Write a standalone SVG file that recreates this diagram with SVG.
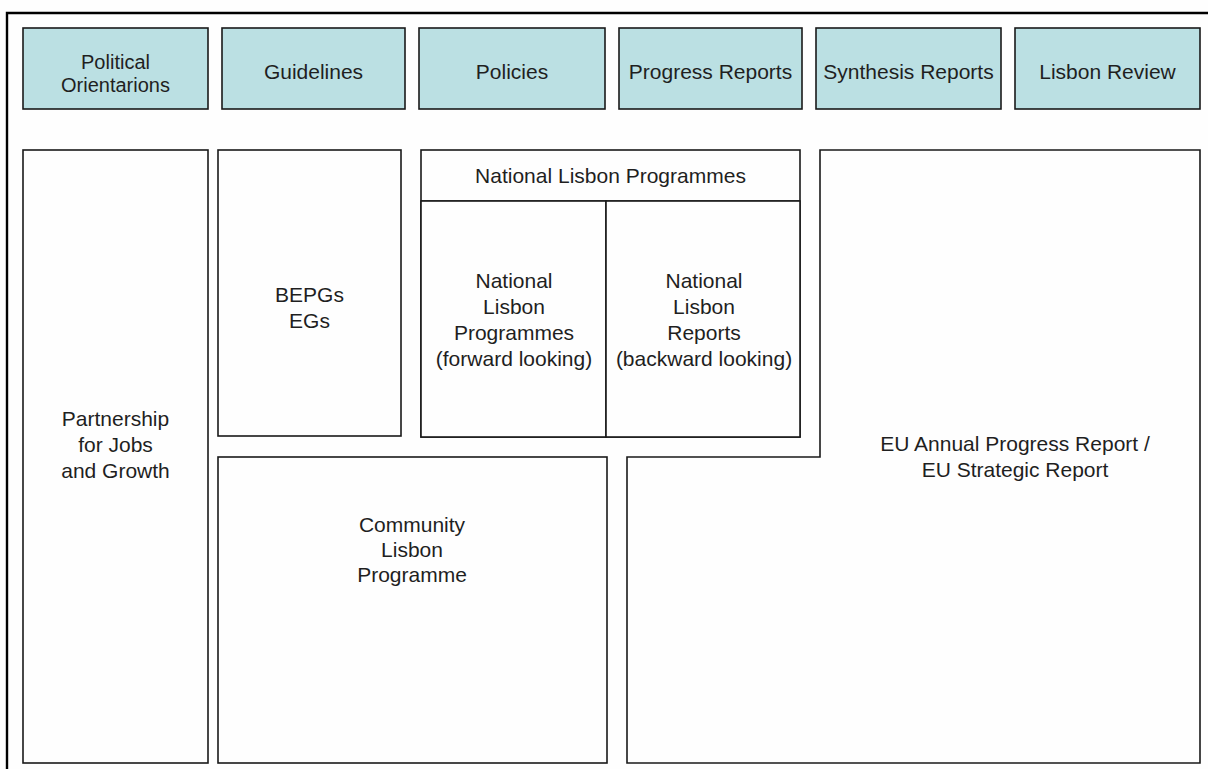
<svg xmlns="http://www.w3.org/2000/svg" width="1208" height="769" viewBox="0 0 1208 769">
<style>
.box{fill:#fefefe;stroke:#1a1a1a;stroke-width:1.6}
.hdr{fill:#bbe0e3;stroke:#1a1a1a;stroke-width:1.6}
.frame{fill:none;stroke:#000;stroke-width:2.4}
text{font-family:"Liberation Sans",Arial,sans-serif;font-size:21px;fill:#1f1f1f;text-anchor:middle}
.sm{font-size:20px}
</style>
<rect x="0" y="0" width="1208" height="769" fill="#fefefe"/>
<g id="frame">
<path class="frame" d="M7,769 V13 H1208"/>
</g>
<g id="political-orientarions"><rect class="hdr" x="23" y="28" width="185" height="81"/><text class="sm" x="115.5" y="69">Political</text><text class="sm" x="115.5" y="92">Orientarions</text></g>
<g id="guidelines"><rect class="hdr" x="222" y="28" width="183" height="81"/><text x="313.5" y="79">Guidelines</text></g>
<g id="policies"><rect class="hdr" x="419" y="28" width="186" height="81"/><text x="512" y="79">Policies</text></g>
<g id="progress-reports"><rect class="hdr" x="619" y="28" width="183" height="81"/><text x="710.5" y="79">Progress Reports</text></g>
<g id="synthesis-reports"><rect class="hdr" x="816" y="28" width="185" height="81"/><text x="908.5" y="79">Synthesis Reports</text></g>
<g id="lisbon-review"><rect class="hdr" x="1015" y="28" width="185" height="81"/><text x="1107.5" y="79">Lisbon Review</text></g>
<g id="partnership"><rect class="box" x="23" y="150" width="185" height="613"/><text x="115.5" y="426">Partnership</text><text x="115.5" y="452">for Jobs</text><text x="115.5" y="478">and Growth</text></g>
<g id="bepgs"><rect class="box" x="218" y="150" width="183" height="286"/><text x="309.5" y="302">BEPGs</text><text x="309.5" y="328">EGs</text></g>
<g id="national-lisbon-programmes"><rect class="box" x="421" y="150" width="379" height="287"/><line x1="421" y1="201" x2="800" y2="201" stroke="#1a1a1a" stroke-width="1.6"/><text x="610.5" y="183">National Lisbon Programmes</text></g>
<g id="nlp-forward"><rect class="box" x="421" y="201" width="185" height="236"/><text x="514" y="288">National</text><text x="514" y="314">Lisbon</text><text x="514" y="340">Programmes</text><text x="514" y="366">(forward looking)</text></g>
<g id="nlr-backward"><rect class="box" x="606" y="201" width="194" height="236"/><text x="704" y="288">National</text><text x="704" y="314">Lisbon</text><text x="704" y="340">Reports</text><text x="704" y="366">(backward looking)</text></g>
<g id="community-lisbon-programme"><rect class="box" x="218" y="457" width="389" height="306"/><text x="412" y="532">Community</text><text x="412" y="557">Lisbon</text><text x="412" y="582">Programme</text></g>
<g id="eu-report"><path class="box" d="M820,150 H1200 V763 H627 V457 H820 Z"/><text x="1015" y="451">EU Annual Progress Report /</text><text x="1015" y="477">EU Strategic Report</text></g>
<g id="connectors"/>
</svg>
